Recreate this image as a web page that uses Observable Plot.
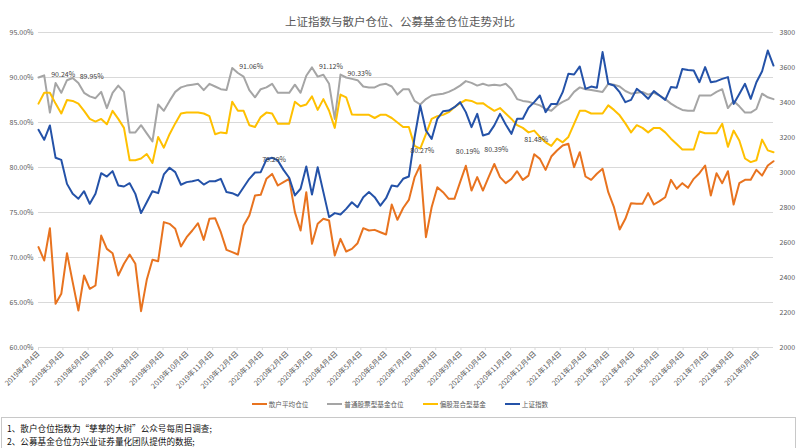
<!DOCTYPE html>
<html><head><meta charset="utf-8">
<script src="https://cdn.jsdelivr.net/npm/d3@7"></script>
<script src="https://cdn.jsdelivr.net/npm/@observablehq/plot@0.6"></script>
<style>
body{margin:0;background:#fff;font-family:"Noto Sans CJK SC","Noto Sans",sans-serif;}
#wrap{position:relative;width:800px;height:448px;overflow:hidden;background:#fff;}
#chart{position:absolute;left:0;top:0;}
#title{position:absolute;top:13px;left:0;width:800px;text-align:center;font-size:11.5px;color:#595959;}
#legend{position:absolute;top:399px;left:0;width:800px;display:flex;justify-content:center;gap:19px;font-size:6.6px;color:#595959;}
#legend span.item{display:flex;align-items:center;gap:2px;}
#legend span.sw{display:inline-block;width:15px;height:2px;}
#note{position:absolute;top:417px;left:1px;width:795px;height:40px;border-top:1px solid #c8c8c8;border-left:1px solid #c8c8c8;border-right:1px solid #c8c8c8;font-size:8.6px;color:#111;padding-left:5px;box-sizing:border-box;line-height:12.5px;padding-top:4px;}
</style></head>
<body><div id="wrap"><div id="chart"></div><div id="title"></div><div id="legend"></div><div id="note"></div></div>
<script>
const titleText = "上证指数与散户仓位、公募基金仓位走势对比";
const seriesNames = ["散户平均仓位","普通股票型基金仓位","偏股混合型基金","上证指数"];
const seriesColors = ["#E8731F","#A5A5A5","#FFC000","#2452A8"];
const notes = ["1、散户仓位指数为“孳孳的大树”公众号每周日调查;","2、公募基金仓位为兴业证券量化团队提供的数据;"];
const startDate = "2019-04-04";
const leftTicks = [60,65,70,75,80,85,90,95];
const rightTicks = [2000,2200,2400,2600,2800,3000,3200,3400,3600,3800];

// 散户平均仓位 (%)
const retail = [71.15,69.67,73.26,64.85,65.96,70.48,67.26,64.11,68.0,66.52,66.89,72.44,70.96,70.48,68.0,69.3,70.33,69.3,64.04,67.52,
69.74,69.59,73.93,73.74,73.19,71.22,72.26,73.0,73.81,71.96,74.3,74.37,72.81,70.85,70.59,70.33,73.56,74.67,76.89,76.96,
78.74,79.29,78.0,78.37,78.74,75.04,73.0,77.26,71.52,73.74,74.3,74.11,70.22,72.07,70.67,70.96,71.59,73.26,73.0,73.07,
72.81,72.56,75.89,74.19,75.5,76.4,78.9,80.27,72.26,75.59,77.81,77.26,76.52,76.52,78.37,80.19,77.44,78.93,77.44,78.93,
80.39,78.93,78.26,78.74,79.59,78.63,79.1,81.48,80.96,79.74,81.22,81.89,82.44,82.63,80.04,81.7,79.0,78.63,79.3,79.85,
77.26,75.59,73.11,74.3,76.04,75.96,75.96,77.15,75.89,76.26,76.7,78.63,77.63,78.26,77.74,78.74,79.37,80.22,76.89,79.37,
78.26,79.59,75.89,78.26,78.63,78.63,79.74,79.1,80.22,80.7];
// 普通股票型基金仓位 (%)
const stockFund = [90.0,90.24,86.1,89.4,88.3,89.7,89.95,89.4,88.3,87.9,87.7,88.4,86.6,88.3,89.1,88.4,83.9,83.9,84.7,83.8,
82.9,87.0,86.3,87.4,88.4,88.9,89.1,89.2,89.3,88.6,89.3,89.0,88.7,88.6,91.06,90.5,90.1,88.6,87.8,88.7,
88.9,89.3,88.3,88.3,88.3,89.2,88.3,90.2,91.12,90.1,90.3,89.3,85.4,90.33,90.0,89.85,89.7,89.0,88.9,88.9,
89.2,89.3,89.0,88.1,88.7,88.7,87.4,87.0,87.6,88.0,88.1,88.2,88.4,88.7,89.1,89.6,89.4,89.1,89.3,89.1,
89.2,89.1,89.3,88.7,87.6,87.4,87.3,87.1,86.9,86.5,86.3,86.9,87.3,87.6,88.4,88.9,88.7,88.6,88.5,88.4,
89.3,89.2,89.0,88.5,88.2,88.3,88.4,88.1,88.3,88.0,87.6,87.1,86.7,86.4,86.3,86.3,88.0,88.0,88.0,88.4,
88.7,86.6,87.4,86.8,86.1,86.1,86.5,88.2,87.8,87.6];
// 偏股混合型基金 (%)
const mixedFund = [87.1,88.3,88.3,87.1,86.0,87.5,87.4,87.1,86.3,85.4,85.1,85.4,84.8,86.3,85.4,84.4,80.8,80.8,81.0,81.5,
80.5,83.4,82.2,83.7,84.9,86.0,86.1,86.1,86.1,86.0,85.7,83.7,83.9,83.8,87.3,86.3,86.3,84.7,84.5,85.6,
86.1,86.0,84.85,84.85,84.85,87.3,86.8,87.0,87.9,86.4,87.6,86.3,84.4,88.1,87.8,85.9,85.85,85.85,85.85,85.5,
85.85,85.85,85.5,85.0,84.5,84.5,82.4,82.1,83.7,85.4,85.7,85.85,86.15,86.7,87.15,87.5,87.4,87.1,87.15,86.7,
86.3,86.6,86.0,85.4,84.7,84.4,83.9,84.1,83.4,82.8,82.4,83.2,82.8,83.4,84.85,86.3,86.3,86.0,86.0,86.0,
86.9,86.4,85.8,84.9,83.9,84.7,84.4,83.9,84.4,84.4,83.9,83.2,82.6,82.0,82.0,82.0,84.0,83.8,83.8,83.8,
84.85,82.3,84.1,83.0,81.0,80.6,80.8,83.1,81.9,81.7];
// 上证指数 (right axis)
const shIndex = [3244,3187,3269,3084,3072,2935,2878,2850,2893,2821,2878,2996,2977,3008,2926,2920,2939,2878,2768,2830,
2893,2882,2989,3027,3002,2930,2945,2950,2958,2931,2950,2950,2964,2888,2882,2867,2916,2964,3000,3002,
3074,3084,3069,3015,2970,2869,2907,3034,2874,3030,2888,2745,2768,2760,2792,2830,2802,2859,2888,2859,
2811,2853,2926,2920,2964,2977,3200,3383,3240,3192,3307,3350,3354,3373,3402,3345,3259,3335,3211,3221,
3269,3335,3274,3221,3307,3307,3370,3402,3440,3345,3392,3392,3459,3564,3560,3606,3478,3491,3484,3688,
3507,3497,3459,3402,3415,3478,3453,3421,3465,3440,3415,3488,3484,3592,3586,3583,3516,3602,3516,3522,
3535,3545,3392,3449,3507,3421,3516,3579,3697,3611];
const stockLabelIdx = [1,6,34,48,53];
const retailLabelIdx = [41,67,75,80,87];

const start = new Date(startDate + "T00:00:00Z");
const dates = retail.map((_, i) => d3.utcDay.offset(start, 7 * i));
const rows = dates.map((date, i) => ({date, i, retail: retail[i], stock: stockFund[i], mixed: mixedFund[i], sh: shIndex[i]}));
const toLeft = r => 60 + (r - 2000) * 35 / 1800;
const fromLeft = v => 2000 + (v - 60) * 1800 / 35;
const monthTicks = d3.utcMonth.range(d3.utcMonth.floor(start), dates[dates.length - 1]).map(m => d3.utcDay.offset(m, 3));
const fmtDate = d => `${d.getUTCFullYear()}年${d.getUTCMonth() + 1}月${d.getUTCDate()}日`;
const pct = v => v.toFixed(2) + "%";
const font = '"Noto Sans CJK SC","Noto Sans",sans-serif';

const plot = Plot.plot({
  width: 800, height: 400,
  marginTop: 32, marginBottom: 53, marginLeft: 38, marginRight: 27,
  style: {fontFamily: font, color: "#595959", background: "transparent"},
  x: {type: "utc", domain: [dates[0], dates[dates.length - 1]]},
  y: {domain: [60, 95]},
  marks: [
    Plot.gridY(leftTicks, {stroke: "#d9d9d9", strokeOpacity: 1, strokeWidth: 1}),
    Plot.axisY(leftTicks, {anchor: "left", tickSize: 0, tickPadding: 5, tickFormat: v => v.toFixed(2) + "%", fontSize: 7, label: null, fill: "#595959"}),
    Plot.axisY(rightTicks.map(toLeft), {anchor: "right", tickSize: 0, tickPadding: 6, tickFormat: v => String(Math.round(fromLeft(v))), fontSize: 7, label: null, fill: "#595959"}),
    Plot.axisX(monthTicks, {anchor: "bottom", tickRotate: -45, tickSize: 3, tickPadding: 2, tickFormat: fmtDate, fontSize: 7.2, label: null, stroke: "#d9d9d9", fill: "#595959"}),
    Plot.line(rows, {x: "date", y: "retail", stroke: seriesColors[0], strokeWidth: 2}),
    Plot.line(rows, {x: "date", y: "stock", stroke: seriesColors[1], strokeWidth: 2}),
    Plot.line(rows, {x: "date", y: "mixed", stroke: seriesColors[2], strokeWidth: 2}),
    Plot.line(rows, {x: "date", y: d => toLeft(d.sh), stroke: seriesColors[3], strokeWidth: 2}),
    Plot.text(rows.filter(d => stockLabelIdx.includes(d.i)), {x: "date", y: "stock", text: d => pct(d.stock), textAnchor: "start", dx: 7, dy: -1, fontSize: 7, fill: "#404040"}),
    Plot.text(rows.filter(d => retailLabelIdx.includes(d.i)), {x: "date", y: "retail", text: d => pct(d.retail), textAnchor: "middle", dx: 2, dy: -14, fontSize: 7, fill: "#404040"})
  ]
});
document.getElementById("chart").appendChild(plot);
document.getElementById("title").textContent = titleText;
const lg = document.getElementById("legend");
seriesNames.forEach((n, k) => {
  const it = document.createElement("span"); it.className = "item";
  const sw = document.createElement("span"); sw.className = "sw"; sw.style.background = seriesColors[k];
  const tx = document.createElement("span"); tx.textContent = n;
  it.appendChild(sw); it.appendChild(tx); lg.appendChild(it);
});
const nt = document.getElementById("note");
notes.forEach(t => { const d = document.createElement("div"); d.textContent = t; nt.appendChild(d); });
</script></body></html>
